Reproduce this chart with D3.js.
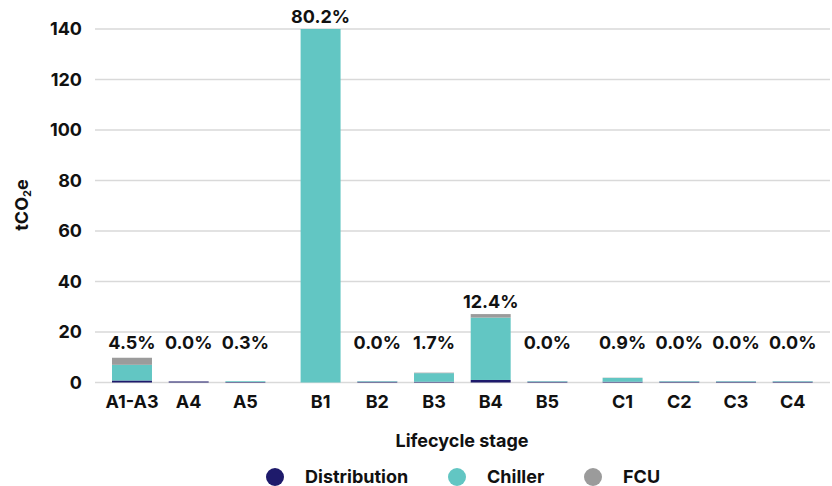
<!DOCTYPE html>
<html>
<head>
<meta charset="utf-8">
<script src="https://cdn.jsdelivr.net/npm/d3@7/dist/d3.min.js"></script>
<style>
  html, body { margin: 0; padding: 0; background: #fff; }
  svg { display: block; font-family: Inter, "Liberation Sans", Arial, sans-serif; }
</style>
</head>
<body>
<svg id="chart" width="832" height="486"></svg>
<script>
// ---- data ----
const categories = ["A1-A3", "A4", "A5", "B1", "B2", "B3", "B4", "B5", "C1", "C2", "C3", "C4"];
const groups     = ["A", "A", "A", "B", "B", "B", "B", "B", "C", "C", "C", "C"];
const distribution = [0.8, 0.4, 0.2, 0.0, 0.3, 0.3, 1.0, 0.3, 0.3, 0.3, 0.3, 0.3];
const chiller      = [6.2, 0.0, 0.3, 140.0, 0.2, 3.4, 24.7, 0.2, 1.5, 0.2, 0.2, 0.2];
const fcu          = [2.8, 0.0, 0.0, 0.0, 0.0, 0.2, 1.4, 0.0, 0.1, 0.0, 0.0, 0.0];
const shareLabels  = ["4.5%", "0.0%", "0.3%", "80.2%", "0.0%", "1.7%", "12.4%", "0.0%", "0.9%", "0.0%", "0.0%", "0.0%"];
const yTicks = [0, 20, 40, 60, 80, 100, 120, 140];
const seriesNames = ["Distribution", "Chiller", "FCU"];
const seriesColors = ["#1e1a6b", "#62c6c3", "#9b9b9b"];

// ---- layout ----
const svg = d3.select("#chart");
const gridLeft = 95, gridRight = 830;
const groupGap = 18.5;
const groupList = Array.from(new Set(groups));
const fs = 18;

const x = d3.scaleBand()
  .domain(categories)
  .range([112, 112 + 56.7 * (categories.length - 0.295)])
  .paddingInner(0.295)
  .paddingOuter(0);
const xPos = (c, i) => x(c) + groupList.indexOf(groups[i]) * groupGap;

const y = d3.scaleLinear().domain([0, 140]).range([382.5, 29]);

// gridlines
svg.append("g").selectAll("line").data(yTicks).join("line")
  .attr("x1", gridLeft).attr("x2", gridRight)
  .attr("y1", d => y(d)).attr("y2", d => y(d))
  .attr("stroke", "#d9d9d9").attr("stroke-width", 1.5);

// y tick labels
svg.append("g").selectAll("text").data(yTicks).join("text")
  .attr("x", 82).attr("y", d => y(d)).attr("dy", "0.35em")
  .attr("text-anchor", "end")
  .attr("font-size", fs).attr("font-weight", 700).attr("fill", "#111")
  .text(d => d);

// stacked data
const rows = categories.map((c, i) => ({
  cat: c, i,
  Distribution: distribution[i], Chiller: chiller[i], FCU: fcu[i]
}));
const stack = d3.stack().keys(seriesNames)(rows);

const barG = svg.append("g");
stack.forEach((layer, k) => {
  barG.append("g").attr("fill", seriesColors[k])
    .selectAll("rect").data(layer).join("rect")
    .attr("x", d => xPos(d.data.cat, d.data.i))
    .attr("width", x.bandwidth())
    .attr("y", d => y(d[1]))
    .attr("height", d => Math.max(0, y(d[0]) - y(d[1])));
});

// share labels
const labelFloor = 10.7;
svg.append("g").selectAll("text").data(rows).join("text")
  .attr("x", d => xPos(d.cat, d.i) + x.bandwidth() / 2)
  .attr("y", d => Math.min(y(d.Distribution + d.Chiller + d.FCU), y(labelFloor)) - 6)
  .attr("text-anchor", "middle")
  .attr("font-size", fs).attr("font-weight", 700).attr("fill", "#111")
  .text(d => shareLabels[d.i]);

// x tick labels
svg.append("g").selectAll("text").data(rows).join("text")
  .attr("x", d => xPos(d.cat, d.i) + x.bandwidth() / 2)
  .attr("y", 408)
  .attr("text-anchor", "middle")
  .attr("font-size", fs).attr("font-weight", 700).attr("fill", "#111")
  .text(d => d.cat);

// axis titles
svg.append("text")
  .attr("x", 462).attr("y", 447)
  .attr("text-anchor", "middle")
  .attr("font-size", fs).attr("font-weight", 700).attr("fill", "#111")
  .text("Lifecycle stage");

const yt = svg.append("text")
  .attr("transform", "translate(28,205) rotate(-90)")
  .attr("text-anchor", "middle")
  .attr("font-size", fs).attr("font-weight", 700).attr("fill", "#111");
yt.append("tspan").text("tCO");
yt.append("tspan").attr("font-size", 11).attr("dy", 3).text("2");
yt.append("tspan").attr("dy", -3).text("e");

// legend
const legendX = [275, 457, 593];
const leg = svg.append("g").selectAll("g").data(seriesNames).join("g")
  .attr("transform", (d, i) => `translate(${legendX[i]},477)`);
leg.append("circle").attr("r", 9).attr("fill", (d, i) => seriesColors[i]);
leg.append("text").attr("x", 30).attr("dy", "0.35em")
  .attr("font-size", fs).attr("font-weight", 700).attr("fill", "#111")
  .text(d => d);
</script>
</body>
</html>
